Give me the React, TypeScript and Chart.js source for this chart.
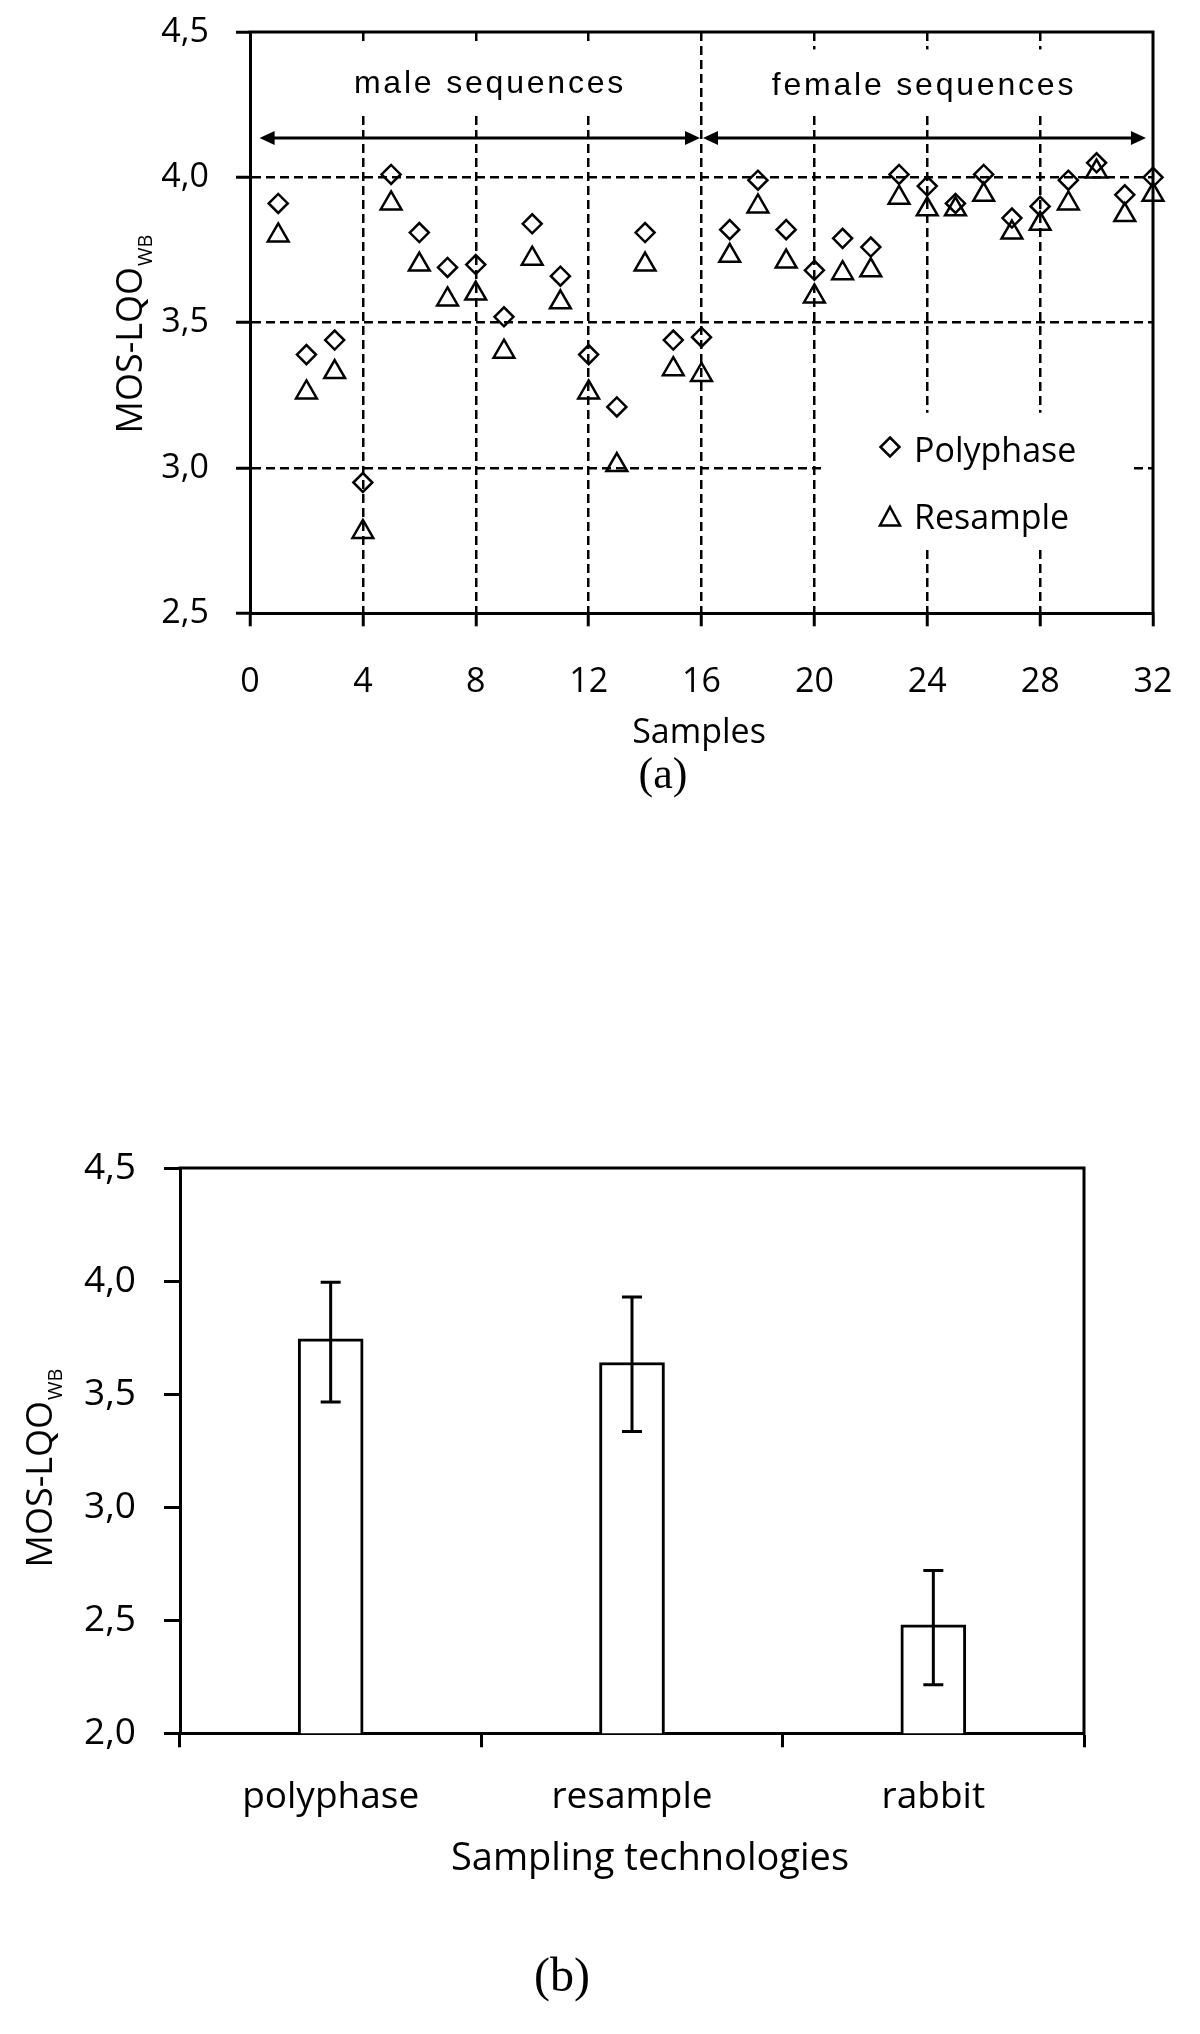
import React, { useEffect, useRef } from 'react';
import { Chart, registerables } from 'chart.js';

Chart.register(...registerables);
Chart.defaults.color = '#000';
Chart.defaults.font.family = '"Open Sans", sans-serif';

// ---------- (a) data ----------
const sampleIds = [1, 2, 3, 4, 5, 6, 7, 8, 9, 10, 11, 12, 13, 14, 15, 16, 17, 18, 19, 20, 21, 22, 23, 24, 25, 26, 27, 28, 29, 30, 31, 32];
const polyphaseScores = [3.91, 3.39, 3.44, 2.95, 4.01, 3.81, 3.69, 3.70, 3.52, 3.84, 3.66, 3.39, 3.21, 3.81, 3.44, 3.45,
  3.82, 3.99, 3.82, 3.68, 3.79, 3.76, 4.01, 3.97, 3.91, 4.01, 3.86, 3.90, 3.99, 4.05, 3.94, 4.00];
const resampleScores = [3.80, 3.26, 3.33, 2.78, 3.91, 3.70, 3.58, 3.60, 3.40, 3.72, 3.57, 3.26, 3.01, 3.70, 3.34, 3.32,
  3.73, 3.90, 3.71, 3.59, 3.67, 3.68, 3.93, 3.89, 3.89, 3.94, 3.81, 3.84, 3.91, 4.02, 3.87, 3.94];
const sampleTicks = [0, 4, 8, 12, 16, 20, 24, 28, 32];
const mosTicksA = [2.5, 3.0, 3.5, 4.0, 4.5];
const groupNames = ['male sequences', 'female sequences'];
const groupRanges = [[0.34, 16], [16, 31.75]];
const groupArrowLevel = 4.135;
const seriesNames = ['Polyphase', 'Resample'];

// ---------- (b) data ----------
const technologies = ['polyphase', 'resample', 'rabbit'];
const techMeans = [3.745, 3.64, 2.48];
const techLow = [3.465, 3.335, 2.215];
const techHigh = [3.995, 3.93, 2.72];
const mosTicksB = [2.0, 2.5, 3.0, 3.5, 4.0, 4.5];

const fmt = (v: number) => Number(v).toFixed(1).replace('.', ',');

function drawYTitle(ctx: CanvasRenderingContext2D, cx: number, cy: number, main: number, sub: number, shift: number) {
  ctx.save();
  ctx.translate(cx, cy);
  ctx.rotate(-Math.PI / 2);
  ctx.fillStyle = '#000';
  ctx.textAlign = 'left';
  ctx.textBaseline = 'alphabetic';
  const mf = `${main}px "Open Sans"`;
  const sf = `${sub}px "Open Sans"`;
  ctx.font = mf;
  const mw = ctx.measureText('MOS-LQO').width;
  ctx.font = sf;
  const sw = ctx.measureText('WB').width;
  const start = -(mw + sw + 1) / 2;
  ctx.font = mf;
  ctx.fillText('MOS-LQO', start, 0);
  ctx.font = sf;
  ctx.fillText('WB', start + mw + 1, shift);
  ctx.restore();
}

function frame(chart: any) {
  const { ctx, chartArea: a } = chart;
  ctx.save();
  ctx.strokeStyle = '#000';
  ctx.lineWidth = 3;
  ctx.beginPath();
  ctx.moveTo(a.left - 1.5, a.top);
  ctx.lineTo(a.right, a.top);
  ctx.lineTo(a.right, a.bottom + 1.5);
  ctx.stroke();
  ctx.restore();
}

const zeroPad = (s: any) => {
  s.paddingTop = 0;
  s.paddingBottom = 0;
  s.paddingLeft = 0;
  s.paddingRight = 0;
};

const topDecor = {
  id: 'topDecor',
  beforeDatasetsDraw(chart: any) {
    const { ctx, scales: { x, y } } = chart;
    const gaps = [
      [1.8, 15.2, 4.46, 4.228],
      [18.1, 29.8, 4.44, 4.228],
      [20.27, 31.22, 3.19, 2.725],
    ];
    ctx.save();
    ctx.fillStyle = '#fff';
    for (const [x0, x1, y0, y1] of gaps) {
      const px0 = x.getPixelForValue(x0), px1 = x.getPixelForValue(x1);
      const py0 = y.getPixelForValue(y0), py1 = y.getPixelForValue(y1);
      ctx.fillRect(px0, py0, px1 - px0, py1 - py0);
    }
    ctx.restore();
  },
  afterDraw(chart: any) {
    const { ctx, scales: { x, y } } = chart;
    frame(chart);
    ctx.save();
    ctx.strokeStyle = '#000';
    ctx.fillStyle = '#000';
    ctx.lineWidth = 3;
    // arrows
    const ay = y.getPixelForValue(groupArrowLevel);
    const head = 15, hw = 7;
    groupRanges.forEach(([a0, a1], i) => {
      let x0 = x.getPixelForValue(a0), x1 = x.getPixelForValue(a1);
      if (i === 0) x1 -= 1.5; else x0 += 1.5;
      ctx.beginPath();
      ctx.moveTo(x0 + head - 2, ay);
      ctx.lineTo(x1 - head + 2, ay);
      ctx.stroke();
      ctx.beginPath();
      ctx.moveTo(x0, ay); ctx.lineTo(x0 + head, ay - hw); ctx.lineTo(x0 + head, ay + hw); ctx.closePath(); ctx.fill();
      ctx.beginPath();
      ctx.moveTo(x1, ay); ctx.lineTo(x1 - head, ay - hw); ctx.lineTo(x1 - head, ay + hw); ctx.closePath(); ctx.fill();
    });
    // group labels
    ctx.font = '32px "Liberation Sans"';
    (ctx as any).letterSpacing = '2.8px';
    ctx.textAlign = 'center';
    ctx.textBaseline = 'alphabetic';
    ctx.fillText(groupNames[0], 490, 93);
    ctx.fillText(groupNames[1], 924, 95);
    (ctx as any).letterSpacing = '0px';
    // legend
    ctx.lineWidth = 2.5;
    const lx = 890;
    const d = 9.5;
    ctx.beginPath();
    ctx.moveTo(lx, 447 - d); ctx.lineTo(lx + d, 447); ctx.lineTo(lx, 447 + d); ctx.lineTo(lx - d, 447); ctx.closePath();
    ctx.stroke();
    const t = 10;
    ctx.beginPath();
    ctx.moveTo(lx, 517 - t); ctx.lineTo(lx + t, 517 + t * 0.85); ctx.lineTo(lx - t, 517 + t * 0.85); ctx.closePath();
    ctx.stroke();
    ctx.font = '34px "Open Sans"';
    ctx.textAlign = 'left';
    ctx.fillText(seriesNames[0], 914, 462);
    ctx.fillText(seriesNames[1], 914, 529);
    // axis title
    ctx.textAlign = 'center';
    ctx.fillText('Samples', 699, 743);
    ctx.font = '44px "Liberation Serif"';
    ctx.fillText('(a)', 663, 788);
    ctx.restore();
    drawYTitle(ctx, 142, 334, 36, 20, 10);
  },
};

const bottomDecor = {
  id: 'bottomDecor',
  afterDraw(chart: any) {
    const { ctx, scales: { y } } = chart;
    frame(chart);
    const meta = chart.getDatasetMeta(0);
    ctx.save();
    ctx.strokeStyle = '#000';
    ctx.lineWidth = 3;
    meta.data.forEach((bar: any, i: number) => {
      const cx = bar.x;
      const yh = y.getPixelForValue(techHigh[i]);
      const yl = y.getPixelForValue(techLow[i]);
      ctx.beginPath();
      ctx.moveTo(cx, yh); ctx.lineTo(cx, yl);
      ctx.moveTo(cx - 10, yh); ctx.lineTo(cx + 10, yh);
      ctx.moveTo(cx - 10, yl); ctx.lineTo(cx + 10, yl);
      ctx.stroke();
    });
    ctx.fillStyle = '#000';
    ctx.textAlign = 'center';
    ctx.textBaseline = 'alphabetic';
    ctx.font = '38px "Open Sans"';
    ctx.fillText('Sampling technologies', 650, 770);
    ctx.font = '48px "Liberation Serif"';
    ctx.fillText('(b)', 562, 891);
    ctx.restore();
    drawYTitle(ctx, 52, 368, 36, 20, 10);
  },
};

export default function App() {
  const topRef = useRef<HTMLCanvasElement>(null);
  const botRef = useRef<HTMLCanvasElement>(null);

  useEffect(() => {
    const dashGrid = (min: number, max: number) => (c: any) =>
      c.tick && (c.tick.value === min || c.tick.value === max) ? 'rgba(0,0,0,0)' : '#000';

    const top = new Chart(topRef.current!, {
      type: 'scatter',
      data: {
        datasets: [
          {
            label: seriesNames[0],
            data: sampleIds.map((s, i) => ({ x: s, y: polyphaseScores[i] })),
            pointStyle: 'rectRot',
            pointRadius: 9.5,
            pointBorderWidth: 2.5,
            pointBorderColor: '#000',
            pointBackgroundColor: 'rgba(0,0,0,0)',
            clip: false as any,
          },
          {
            label: seriesNames[1],
            data: sampleIds.map((s, i) => ({ x: s, y: resampleScores[i] })),
            pointStyle: 'triangle',
            pointRadius: 12,
            pointBorderWidth: 2.5,
            pointBorderColor: '#000',
            pointBackgroundColor: 'rgba(0,0,0,0)',
            clip: false as any,
          },
        ],
      },
      options: {
        responsive: false,
        animation: false,
        events: [],
        layout: { autoPadding: false, padding: { left: 0, top: 32, right: 47, bottom: 0 } },
        plugins: { legend: { display: false }, tooltip: { enabled: false } },
        scales: {
          x: {
            type: 'linear',
            min: 0,
            max: 32,
            afterBuildTicks: (s: any) => { s.ticks = sampleTicks.map((v) => ({ value: v })); },
            afterFit: (s: any) => { s.height = 820 - 613.3; zeroPad(s); },
            ticks: { font: { size: 34 }, padding: 36, maxRotation: 0, autoSkip: false, callback: (v: any) => String(v) },
            grid: { color: dashGrid(0, 32), lineWidth: 2.5, tickLength: 13, tickWidth: 3, tickColor: '#000' },
            border: { color: '#000', width: 3, dash: [9, 5] },
          },
          y: {
            type: 'linear',
            min: 2.5,
            max: 4.5,
            afterBuildTicks: (s: any) => { s.ticks = mosTicksA.map((v) => ({ value: v })); },
            afterFit: (s: any) => { s.width = 250; zeroPad(s); },
            ticks: { font: { size: 34 }, padding: 27, callback: (v: any) => fmt(v) },
            grid: { color: dashGrid(2.5, 4.5), lineWidth: 2.5, tickLength: 14, tickWidth: 3, tickColor: '#000' },
            border: { color: '#000', width: 3, dash: [9, 5] },
          },
        },
      },
      plugins: [topDecor],
    } as any);

    const bot = new Chart(botRef.current!, {
      type: 'bar',
      data: {
        labels: technologies,
        datasets: [
          {
            data: techMeans,
            backgroundColor: '#fff',
            borderColor: '#000',
            borderWidth: 3,
            borderSkipped: false,
            barThickness: 65,
          },
        ],
      },
      options: {
        responsive: false,
        animation: false,
        events: [],
        layout: { autoPadding: false, padding: { left: 0, top: 68, right: 116, bottom: 0 } },
        plugins: { legend: { display: false }, tooltip: { enabled: false } },
        scales: {
          x: {
            type: 'category',
            afterFit: (s: any) => { s.height = 934 - 633.3; zeroPad(s); },
            ticks: { font: { size: 37 }, padding: 28, maxRotation: 0 },
            grid: { offset: true, drawOnChartArea: false, tickLength: 14, tickWidth: 3, tickColor: '#000', color: '#000' },
            border: { color: '#000', width: 3 },
          },
          y: {
            type: 'linear',
            min: 2.0,
            max: 4.5,
            afterBuildTicks: (s: any) => { s.ticks = mosTicksB.map((v) => ({ value: v })); },
            afterFit: (s: any) => { s.width = 180; zeroPad(s); },
            ticks: { font: { size: 37 }, padding: 28, callback: (v: any) => fmt(v) },
            grid: { drawOnChartArea: false, tickLength: 16, tickWidth: 3, tickColor: '#000', color: '#000' },
            border: { color: '#000', width: 3 },
          },
        },
      },
      plugins: [bottomDecor],
    } as any);

    return () => {
      top.destroy();
      bot.destroy();
    };
  }, []);

  return (
    <div style={{ position: 'absolute', left: 0, top: 0, width: 1200, height: 2034, background: '#fff' }}>
      <canvas ref={topRef} width={1200} height={820} style={{ position: 'absolute', left: 0, top: 0, width: 1200, height: 820 }} />
      <canvas ref={botRef} width={1200} height={934} style={{ position: 'absolute', left: 0, top: 1100, width: 1200, height: 934 }} />
    </div>
  );
}
